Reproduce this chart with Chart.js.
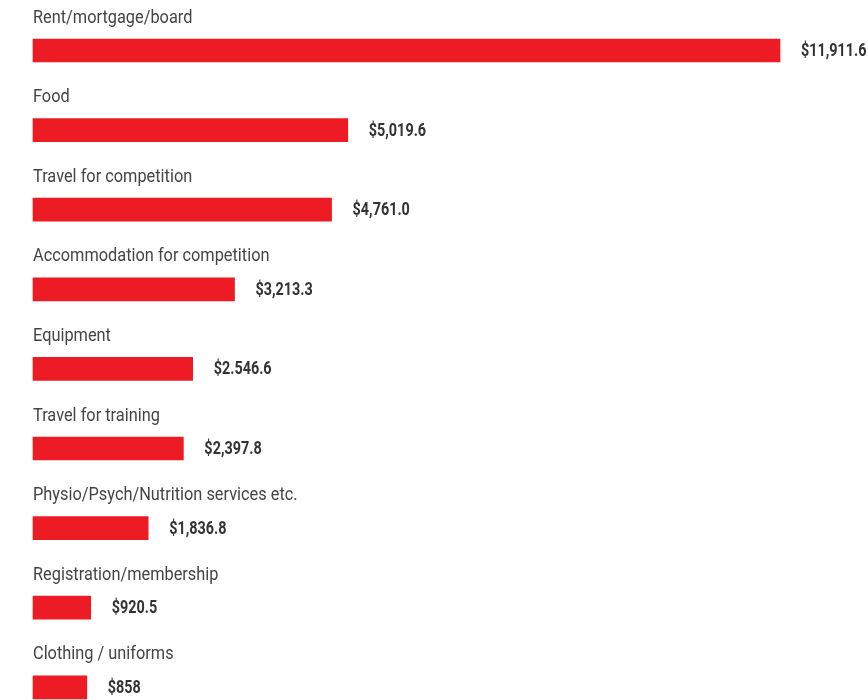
<!DOCTYPE html>
<html>
<head>
<meta charset="utf-8">
<script src="https://cdn.jsdelivr.net/npm/chart.js@4/dist/chart.umd.min.js"></script>
<style>
  html, body { margin: 0; padding: 0; background: #ffffff; overflow: hidden; }
  #wrap { width: 868px; height: 700px; }
</style>
</head>
<body>
<div id="wrap"><canvas id="chart" width="868" height="700"></canvas></div>
<script>
// Average annual athlete costs by category
const categories = [
  'Rent/mortgage/board',
  'Food',
  'Travel for competition',
  'Accommodation for competition',
  'Equipment',
  'Travel for training',
  'Physio/Psych/Nutrition services etc.',
  'Registration/membership',
  'Clothing / uniforms'
];
const costs = [11911.6, 5019.6, 4761.0, 3213.3, 2546.6, 2397.8, 1836.8, 920.5, 858];
const costLabels = ['$11,911.6', '$5,019.6', '$4,761.0', '$3,213.3', '$2.546.6', '$2,397.8', '$1,836.8', '$920.5', '$858'];

const FONT = 'Roboto, "Noto Sans", sans-serif';

// Draws text squeezed horizontally to give a condensed face
function condensedText(ctx, text, x, y, squeeze) {
  ctx.save();
  ctx.translate(x, y);
  ctx.scale(squeeze, 1);
  ctx.fillText(text, 0, 0);
  ctx.restore();
}

// Category name above each bar, dollar amount to its right
const barLabels = {
  id: 'barLabels',
  afterDatasetsDraw(chart) {
    const ctx = chart.ctx;
    const meta = chart.getDatasetMeta(0);
    ctx.save();
    meta.data.forEach((bar, i) => {
      ctx.textAlign = 'left';
      ctx.textBaseline = 'alphabetic';
      ctx.font = '19px ' + FONT;
      ctx.fillStyle = '#444444';
      condensedText(ctx, categories[i], chart.chartArea.left, bar.y - 28, 0.86);

      ctx.textBaseline = 'middle';
      ctx.font = 'bold 18px ' + FONT;
      ctx.fillStyle = '#333333';
      condensedText(ctx, costLabels[i], bar.x + 21, bar.y + 1, 0.8);
    });
    ctx.restore();
  }
};

new Chart(document.getElementById('chart'), {
  type: 'bar',
  data: {
    labels: categories,
    datasets: [{
      data: costs,
      backgroundColor: '#ED1C24',
      borderWidth: 0,
      barThickness: 23,
      clip: false
    }]
  },
  options: {
    indexAxis: 'y',
    responsive: false,
    devicePixelRatio: 1,
    animation: false,
    layout: { padding: { left: 33, right: 88, top: 50.5, bottom: 12.7 } },
    plugins: {
      legend: { display: false },
      tooltip: { enabled: false }
    },
    scales: {
      x: { display: false, min: 0, max: Math.max(...costs) },
      y: { display: false, offset: false }
    }
  },
  plugins: [barLabels]
});
</script>
</body>
</html>
